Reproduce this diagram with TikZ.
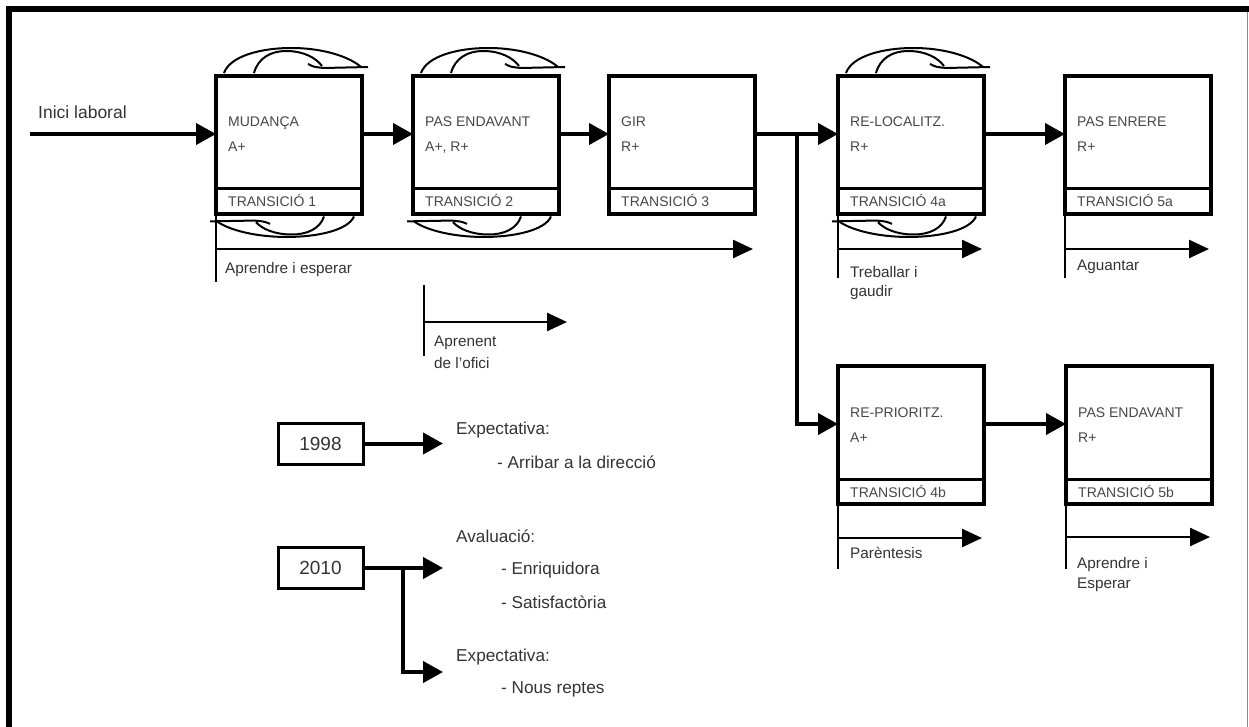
\documentclass[tikz,border=0pt]{standalone}
\usepackage{fontspec}
\setmainfont{Liberation Sans}
\usetikzlibrary{arrows.meta,calc}

\tikzset{
  x=1pt, y=-1pt,
  stbox/.style={draw, fill=white, line width=4pt, minimum width=146pt, minimum height=138pt,
    inner sep=0pt, outer sep=0pt, anchor=north west},
  divline/.style={line width=3pt},
  boxtxt/.style={anchor=base west, inner sep=0pt, font=\fontsize{14}{16}\selectfont, text=black!72},
  lbl/.style={anchor=base west, inner sep=0pt, font=\fontsize{15.3}{18}\selectfont, text=black!80},
  side/.style={anchor=base west, inner sep=0pt, font=\fontsize{17.2}{20}\selectfont, text=black!80},
  main/.style={line width=4pt, -{Triangle[length=20pt,width=21pt]}},
  thinarrow/.style={line width=2.5pt, -{Triangle[length=20pt,width=18pt]}},
  tickl/.style={line width=2.2pt},
  loopl/.style={line width=2pt},
  yearbox/.style={draw, line width=3pt, minimum width=85pt, minimum height=41pt, inner sep=0pt,
    outer sep=0pt, font=\fontsize{19}{22}\selectfont, text=black!80},
  % a circling ribbon seen edge-on, tip pointing along the box edge
  ribbon/.pic={
    \draw[loopl] (8,-3) .. controls (14,-20) and (45,-28) .. (75,-28) .. controls (110,-28) and (135,-18) .. (145,-9);
    \draw[loopl] (38,-3) .. controls (42,-18) and (55,-25) .. (70,-25) .. controls (88,-25) and (100,-18) .. (106,-10);
    \draw[loopl] (92,-12) .. controls (98,-9) .. (108,-8) -- (152,-9);
  },
}

% one stage: name, left, top, title, qualifier, transition label
\newcommand\stagebox[6]{%
  \node[stbox] (#1) at (#2,#3) {};
  \draw[divline] ($(#1.south west)+(0,-25)$) -- ($(#1.south east)+(0,-25)$);
  \node[boxtxt] (#1-t) at ($(#1.north west)+(12,51)$) {#4};
  \node[boxtxt] (#1-s) at ($(#1.north west)+(12,76)$) {#5};
  \node[boxtxt] (#1-r) at ($(#1.south west)+(12,-7)$) {#6};
  \coordinate (#1-in) at ($(#1.north west)+(0,58)$);
  \coordinate (#1-out) at ($(#1.north east)+(0,58)$);
}

\begin{document}
\begin{tikzpicture}
\useasboundingbox (0,0) rectangle (1249,727);

% page frame
\draw[line width=6pt] (9,727) -- (9,9) -- (1249,9);
\draw[line width=1.5pt, black!45] (1247.5,12) -- (1247.5,727);

% cycling ribbons round the first stages
\pic at (216,76) {ribbon};
\pic[rotate=180, yscale=0.82] at (362,214) {ribbon};
\pic at (413,76) {ribbon};
\pic[rotate=180, yscale=0.82] at (559,214) {ribbon};
\pic at (838,76) {ribbon};
\pic[rotate=180, yscale=0.82] at (984,214) {ribbon};

% stages
\stagebox{b1}{216}{76}{MUDANÇA}{A+}{TRANSICIÓ 1}
\stagebox{b2}{413}{76}{PAS ENDAVANT}{A+, R+}{TRANSICIÓ 2}
\stagebox{b3}{609}{76}{GIR}{R+}{TRANSICIÓ 3}
\stagebox{b4a}{838}{76}{RE-LOCALITZ.}{R+}{TRANSICIÓ 4a}
\stagebox{b5a}{1065}{76}{PAS ENRERE}{R+}{TRANSICIÓ 5a}
\stagebox{b4b}{838}{366}{RE-PRIORITZ.}{A+}{TRANSICIÓ 4b}
\stagebox{b5b}{1066}{366}{PAS ENDAVANT}{R+}{TRANSICIÓ 5b}

% main flow
\coordinate (start) at (30,134);
\node[lbl, font=\fontsize{17.5}{20}\selectfont] (inici) at (38,119) {Inici laboral};
\draw[main] (start) -- (b1-in);
\draw[main] (b1-out) -- (b2-in);
\draw[main] (b2-out) -- (b3-in);
\draw[main] (b3-out) -- (b4a-in);
\coordinate (split) at (797,134);
\draw[main] (split) |- (b4b-in);
\draw[main] (b4a-out) -- (b5a-in);
\draw[main] (b4b-out) -- (b5b-in);

% periods under the stages
\coordinate (ae) at (753,249);
\draw[tickl] (b1.south west) -- ++(0,68);
\draw[thinarrow] (b1.south west |- ae) -- (ae);
\node[lbl] (l-ae) at (225,273) {Aprendre i esperar};

\coordinate (ap0) at (424,285);
\coordinate (ap1) at (424,356);
\coordinate (apE) at (567,322);
\draw[tickl] (ap0) -- (ap1);
\draw[thinarrow] (ap0 |- apE) -- (apE);
\node[lbl] (l-ap1) at (434,346) {Aprenent};
\node[lbl] (l-ap2) at (434,368) {de l'ofici};

\coordinate (tgE) at (982,249);
\draw[tickl] (b4a.south west) -- ++(0,64);
\draw[thinarrow] (b4a.south west |- tgE) -- (tgE);
\node[lbl] (l-tg1) at (850,277) {Treballar i};
\node[lbl] (l-tg2) at (850,296) {gaudir};

\coordinate (agE) at (1209,249);
\draw[tickl] (b5a.south west) -- ++(0,64);
\draw[thinarrow] (b5a.south west |- agE) -- (agE);
\node[lbl] (l-ag) at (1077,270) {Aguantar};

\coordinate (paE) at (982,538);
\draw[tickl] (b4b.south west) -- ++(0,65);
\draw[thinarrow] (b4b.south west |- paE) -- (paE);
\node[lbl] (l-pa) at (850,558) {Parèntesis};

\coordinate (aeE) at (1210,537);
\draw[tickl] (b5b.south west) -- ++(0,65);
\draw[thinarrow] (b5b.south west |- aeE) -- (aeE);
\node[lbl] (l-ee1) at (1077,568) {Aprendre i};
\node[lbl] (l-ee2) at (1077,588) {Esperar};

% milestones
\node[yearbox] (y98) at (320.5,443.5) {1998};
\node[yearbox] (y10) at (320.5,568) {2010};
\coordinate (e98) at (443,443.5);
\coordinate (e10a) at (443,568);
\coordinate (br10) at (403,568);
\coordinate (e10b) at (443,672);
\draw[main] (y98) -- (e98);
\draw[main] (y10) -- (e10a);
\draw[main] (br10) |- (e10b);

\node[side] (s1) at (456,434) {Expectativa:};
\node[side] (s2) at (497,468) {- Arribar a la direcció};
\node[side] (s3) at (456,542) {Avaluació:};
\node[side] (s4) at (501,574) {- Enriquidora};
\node[side] (s5) at (501,608) {- Satisfactòria};
\node[side] (s6) at (456,661) {Expectativa:};
\node[side] (s7) at (501,693) {- Nous reptes};
\end{tikzpicture}
\end{document}
